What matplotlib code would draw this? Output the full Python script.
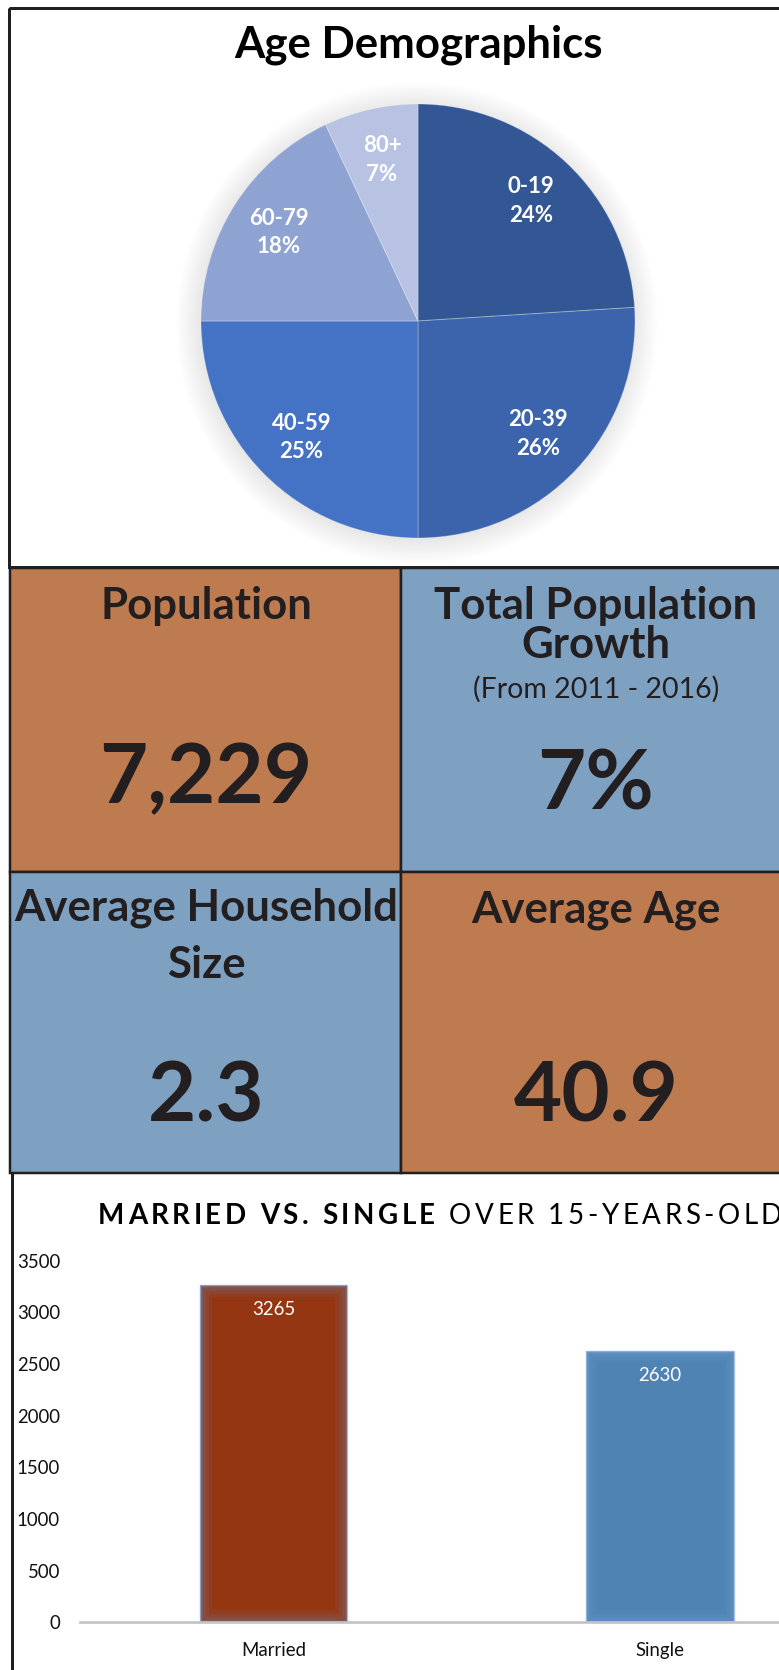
import matplotlib
matplotlib.use('Agg')
import matplotlib.pyplot as plt
from matplotlib.patches import Rectangle, Circle
import numpy as np

# ---------------- data ----------------
age_groups = ['0-19', '20-39', '40-59', '60-79', '80+']
age_pct = [24, 26, 25, 18, 7]

tile_titles = [['Population'], ['Total Population', 'Growth'],
               ['Average Household', 'Size'], ['Average Age']]
tile_subtitles = ['', '(From 2011 - 2016)', '', '']
tile_values = ['7,229', '7%', '2.3', '40.9']

status_labels = ['Married', 'Single']
status_counts = [3265, 2630]
y_ticks = [0, 500, 1000, 1500, 2000, 2500, 3000, 3500]

chart2_title_bold = 'MARRIED VS. SINGLE'
chart2_title_rest = 'OVER 15-YEARS-OLD'

# ---------------- style ----------------
W, H, DPI = 779, 1670, 100
FONT = 'Lato'
DARK = '#231f20'
age_colors = ['#335694', '#3c64ac', '#4472c4', '#8fa3d3', '#b8c2e2']
ORANGE = '#bf7b50'
BLUE = '#7fa1c1'
bar_colors = ['#943611', '#4e83b3']
PX = 72.0 / DPI  # points per pixel

plt.rcParams['font.family'] = [FONT, 'DejaVu Sans']

fig = plt.figure(figsize=(W / DPI, H / DPI), dpi=DPI)
bg = fig.add_axes([0, 0, 1, 1])
bg.set_xlim(0, W)
bg.set_ylim(H, 0)
bg.axis('off')


def px_rect(x0, y0, x1, y1):
    return [x0 / W, 1 - y1 / H, (x1 - x0) / W, (y1 - y0) / H]


# ---------------- section 1: pie ----------------
bg.add_patch(Rectangle((9, 8), 900, 559, fill=False, ec=DARK, lw=3 * PX, zorder=5))
bg.text(418, 57.5, 'Age Demographics', ha='center', va='baseline',
        fontsize=31.5, fontweight='bold', color='black')

pax = fig.add_axes(px_rect(201, 104, 635, 538))
# soft shadow around pie
for i in range(12):
    pax.add_patch(Circle((-0.005, -0.01), 1.0 + 0.01 * i, color='#000000', alpha=0.006,
                         zorder=0, clip_on=False, lw=0))
labels = [f'{g}\n{p}%' for g, p in zip(age_groups, age_pct)]
wedges, texts = pax.pie(age_pct, labels=labels, colors=age_colors, startangle=90,
                        counterclock=False, labeldistance=0.76,
                        wedgeprops=dict(lw=0.8, ec='#ffffff40'),
                        textprops=dict(color='white', fontsize=16, fontweight='bold',
                                       linespacing=1.45))
for t in texts:
    t.set_ha('center')
    t.set_va('center')
for w in wedges:
    w.set_zorder(2)
pax.set_xlim(-1, 1)
pax.set_ylim(-1, 1)
pax.set_aspect('equal')
pax.axis('off')

# ---------------- section 2: tiles ----------------
col_x = [10, 401, 900]
row_y = [568, 871.6, 1173]
tile_fill = [ORANGE, BLUE, BLUE, ORANGE]
centers_x = [206, 596]
heading_baselines = [[619], [619, 658], [920, 978], [922]]
sub_baselines = [None, 697.5, None, None]
value_baselines = [803, 810, 1121.5, 1121.5]

for k in range(4):
    r, c = divmod(k, 2)
    x0, x1 = col_x[c], col_x[c + 1]
    y0, y1 = row_y[r], row_y[r + 1]
    bg.add_patch(Rectangle((x0, y0), x1 - x0, y1 - y0, fc=tile_fill[k],
                           ec=DARK, lw=2.5 * PX, zorder=3))
    cx = centers_x[c]
    for line, yb in zip(tile_titles[k], heading_baselines[k]):
        bg.text(cx, yb, line, ha='center', va='baseline', fontsize=31.5,
                fontweight='bold', color=DARK, zorder=6)
    if tile_subtitles[k]:
        bg.text(cx, sub_baselines[k], tile_subtitles[k], ha='center', va='baseline',
                fontsize=20.5, color=DARK, zorder=6)
    bg.text(cx, value_baselines[k], tile_values[k], ha='center', va='baseline',
            fontsize=60, fontweight='bold', color=DARK, zorder=6)

# ---------------- section 3: bar chart ----------------
bg.plot([12, 12], [1173, 1675], color=DARK, lw=3 * PX, zorder=6, solid_capstyle='butt')

# letter-spaced title
renderer = fig.canvas.get_renderer()
title_fs = 20
chars = [(ch, 'bold') for ch in chart2_title_bold] + [(' ', 'normal')] + \
        [(ch, 'normal') for ch in chart2_title_rest]
tobjs = []
widths = []
for ch, wt in chars:
    t = bg.text(0, 1224, ch, ha='left', va='baseline', fontsize=title_fs,
                fontweight=wt, color='black', zorder=6)
    tobjs.append(t)
for (ch, wt), t in zip(chars, tobjs):
    if ch == ' ':
        widths.append(title_fs / PX * 0.25)
    else:
        bb = t.get_window_extent(renderer=renderer)
        widths.append(bb.width)
x_start, x_end = 98, 782
gap = (x_end - x_start - sum(widths)) / (len(chars) - 1)
x = x_start
for t, w in zip(tobjs, widths):
    t.set_x(x)
    x += w + gap

ax = fig.add_axes(px_rect(80, 1260.7, 853.4, 1622.3))
xpos = np.arange(len(status_labels))
bars = ax.bar(xpos, status_counts, width=0.381, color=bar_colors,
              edgecolor='#a9c1e0', lw=1.0, zorder=2)
# inner soft-edge glow
for b, gc in zip(bars, ['#6d7fa6', '#6f9fd2']):
    for lw_px, a in [(24, 0.10), (17, 0.12), (11, 0.15), (5, 0.2)]:
        g = Rectangle(b.get_xy(), b.get_width(), b.get_height(), fill=False,
                      ec=gc, lw=lw_px * PX, alpha=a, zorder=3)
        ax.add_patch(g)
        g.set_clip_path(b)
lbls = ax.bar_label(bars, padding=-24.5 * PX, color='white', fontsize=13.4)
for t in lbls:
    t.set_va('center')
ax.set_xlim(-0.5, 1.5)
ax.set_ylim(0, 3500)
ax.set_yticks(y_ticks)
ax.set_xticks(xpos)
ax.set_xticklabels(status_labels)
ax.tick_params(axis='both', length=0, labelsize=13.4, labelcolor='#111111')
ax.tick_params(axis='y', pad=20 * PX)
ax.tick_params(axis='x', pad=20 * PX)
for s in ['top', 'right', 'left']:
    ax.spines[s].set_visible(False)
ax.spines['bottom'].set_color('#c4c4c4')
ax.spines['bottom'].set_linewidth(2.7 * PX)
ax.spines['bottom'].set_zorder(4)
ax.set_facecolor('none')

fig.savefig('out.png', dpi=DPI)
